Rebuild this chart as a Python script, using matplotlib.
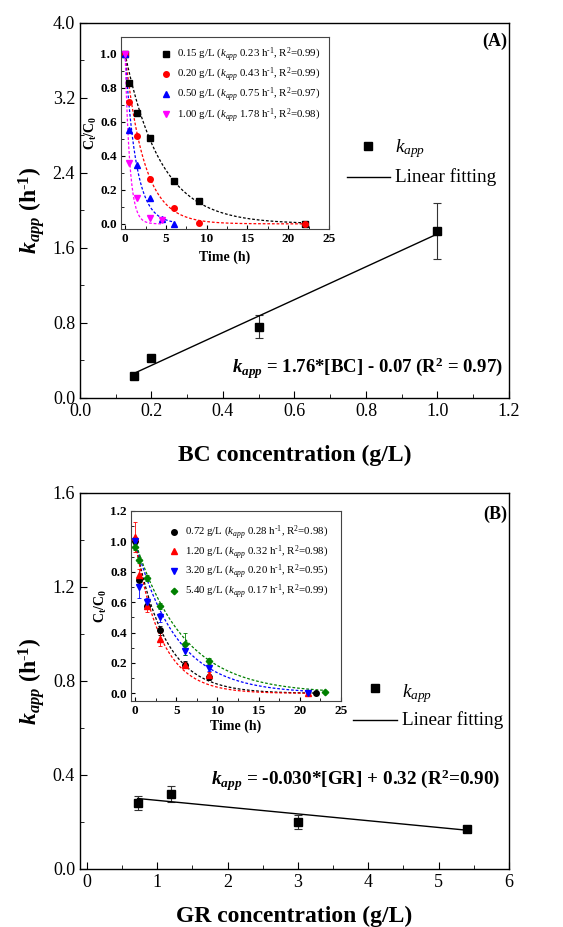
import numpy as np
import matplotlib
matplotlib.use('Agg')
import matplotlib.pyplot as plt
from matplotlib.ticker import MultipleLocator
from matplotlib.lines import Line2D

plt.rcParams['font.family'] = ['Liberation Serif', 'DejaVu Serif']
plt.rcParams['mathtext.fontset'] = 'custom'
plt.rcParams['mathtext.rm'] = 'Liberation Serif'
plt.rcParams['mathtext.it'] = 'Liberation Serif:italic'
plt.rcParams['mathtext.bf'] = 'Liberation Serif:bold'
plt.rcParams['mathtext.bfit'] = 'Liberation Serif:italic:bold'

# ---- panel A: main data ----
bc_conc = [0.15, 0.20, 0.50, 1.00]
bc_kapp = [0.23, 0.43, 0.76, 1.78]
bc_err = [0.0, 0.0, 0.12, 0.30]
bc_fit_x = [0.15, 1.00]
bc_fit_y = [0.26, 1.75]

# ---- panel A: inset data ----
bc_labels = ['0.15', '0.20', '0.50', '1.00']
bc_k = [0.23, 0.43, 0.75, 1.78]
bc_r2 = ['0.99', '0.99', '0.97', '0.98']
bc_t = [[0, 0.5, 1.5, 3, 6, 9, 22],
        [0, 0.5, 1.5, 3, 6, 9, 22],
        [0, 0.5, 1.5, 3, 4.5, 6],
        [0, 0.5, 1.5, 3, 4.5]]
bc_c = [[1.0, 0.83, 0.65, 0.505, 0.255, 0.135, 0.0],
        [1.0, 0.72, 0.52, 0.265, 0.095, 0.005, 0.0],
        [1.0, 0.55, 0.345, 0.155, 0.03, 0.0],
        [1.0, 0.36, 0.155, 0.035, 0.02]]
bc_tend = [22, 22, 6, 4.5]

# ---- panel B: main data ----
gr_conc = [0.72, 1.20, 3.00, 5.40]
gr_kapp = [0.28, 0.32, 0.20, 0.17]
gr_err = [0.03, 0.035, 0.03, 0.01]
gr_fit_x = [0.72, 5.40]
gr_fit_y = [0.30, 0.165]

# ---- panel B: inset data ----
gr_labels = ['0.72', '1.20', '3.20', '5.40']
gr_k = [0.28, 0.32, 0.20, 0.17]
gr_r2 = ['0.98', '0.98', '0.95', '0.99']
gr_t = [[0, 0.5, 1.5, 3, 6, 9, 22],
        [0, 0.5, 1.5, 3, 6, 9, 21],
        [0, 0.5, 1.5, 3, 6, 9, 21],
        [0, 0.5, 1.5, 3, 6, 9, 23]]
gr_c = [[1.0, 0.745, 0.575, 0.415, 0.19, 0.11, 0.0],
        [1.03, 0.78, 0.575, 0.355, 0.185, 0.12, 0.0],
        [1.0, 0.70, 0.60, 0.50, 0.28, 0.165, 0.0],
        [0.96, 0.88, 0.76, 0.575, 0.325, 0.215, 0.01]]
gr_e = [[0.03, 0.03, 0.02, 0.03, 0.02, 0.02, 0.0],
        [0.10, 0.04, 0.04, 0.04, 0.02, 0.02, 0.0],
        [0.02, 0.07, 0.03, 0.03, 0.03, 0.02, 0.0],
        [0.02, 0.02, 0.02, 0.02, 0.07, 0.02, 0.0]]
gr_tend = [22, 21, 21, 23]

colors = ['black', 'red', 'blue', 'green']
colors_a = ['black', 'red', 'blue', 'magenta']

KLAB = r'$\mathbfit{k}_{\mathbfit{app}}$ (h$^{\mathbf{\text{-}1}}$)'


def style_main(ax):
    ax.tick_params(direction='in', which='both', top=False, right=False,
                   labelsize=13)
    ax.tick_params(which='major', length=5)
    ax.tick_params(which='minor', length=3)
    for s in ax.spines.values():
        s.set_linewidth(1.0)


def style_inset(ax):
    ax.tick_params(direction='in', which='both', labelsize=9.5,
                   top=False, right=False, pad=3)
    ax.tick_params(which='major', length=3)
    ax.tick_params(which='minor', length=2)
    for lab in ax.get_xticklabels() + ax.get_yticklabels():
        lab.set_fontweight('bold')
    for s in ax.spines.values():
        s.set_linewidth(0.8)
        s.set_color('#444444')


def kin_label(conc, k, r2):
    return (conc + r' g/L ($k_{app}$ ' + '%.2f' % k +
            r' h$^{\text{-}1}$, R$^{2}$=' + r2 + ')')


fig = plt.figure(figsize=(5.63, 9.27), dpi=100)

# ================= panel A =================
ax1 = fig.add_axes([0.142, 0.5707, 0.762, 0.4045])
ax1.errorbar(bc_conc, bc_kapp, yerr=bc_err, fmt='s', color='black', ms=5.5,
             elinewidth=0.8, capsize=3, capthick=0.8, ecolor='#333333')
ax1.plot(bc_fit_x, bc_fit_y, '-', color='black', lw=1.0)
ax1.set_xlim(0, 1.2)
ax1.set_ylim(0, 4.0)
ax1.xaxis.set_major_locator(MultipleLocator(0.2))
ax1.xaxis.set_minor_locator(MultipleLocator(0.1))
ax1.yaxis.set_major_locator(MultipleLocator(0.8))
ax1.yaxis.set_minor_locator(MultipleLocator(0.4))
ax1.xaxis.set_major_formatter(plt.FormatStrFormatter('%.1f'))
ax1.yaxis.set_major_formatter(plt.FormatStrFormatter('%.1f'))
style_main(ax1)
ax1.set_xlabel('BC concentration (g/L)', fontsize=17, fontweight='bold',
               labelpad=18)
ax1.set_ylabel(KLAB, fontsize=17, fontweight='bold', labelpad=4)
ax1.text(0.995, 0.975, '(A)', transform=ax1.transAxes, ha='right', va='top',
         fontsize=13, fontweight='bold')
ax1.text(0.985, 0.08,
         r'$\mathbfit{k}_{\mathbfit{app}}$ = 1.76*[BC] - 0.07 (R$^{\mathbf{2}}$ = 0.97)',
         transform=ax1.transAxes, ha='right', va='center', fontsize=13.5,
         fontweight='bold')
# legend
ax1.plot([0.806], [2.69], 's', color='black', ms=5.5)
ax1.text(0.881, 2.66, r'$k_{app}$', fontsize=13.8, va='center', ha='left')
ax1.plot([0.747, 0.867], [2.36, 2.36], '-', color='black', lw=1.0)
ax1.text(0.881, 2.36, 'Linear fitting', fontsize=13.8, va='center', ha='left')

# inset A
ins1 = fig.add_axes([0.215, 0.753, 0.3694, 0.2071])
markers_a = ['s', 'o', '^', 'v']
for i in range(4):
    tt = np.linspace(0, bc_tend[i], 200)
    ins1.plot(tt, np.exp(-bc_k[i] * tt), '--', color=colors_a[i], lw=0.9,
              dashes=(2.2, 1.5))
handles = []
for i in range(4):
    ins1.plot(bc_t[i], bc_c[i], markers_a[i], color=colors_a[i], ms=4,
              ls='none')
    handles.append(Line2D([], [], marker=markers_a[i], color=colors_a[i],
                          ms=4, ls='none',
                          label=kin_label(bc_labels[i], bc_k[i], bc_r2[i])))
ins1.set_xlim(-0.5, 25)
ins1.set_ylim(-0.03, 1.1)
ins1.xaxis.set_major_locator(MultipleLocator(5))
ins1.xaxis.set_minor_locator(MultipleLocator(2.5))
ins1.yaxis.set_major_locator(MultipleLocator(0.2))
ins1.yaxis.set_minor_locator(MultipleLocator(0.1))
ins1.yaxis.set_major_formatter(plt.FormatStrFormatter('%.1f'))
style_inset(ins1)
ins1.set_xlabel('Time (h)', fontsize=10, fontweight='bold', labelpad=4)
ins1.set_ylabel(r'C$_{\mathbf{t}}$/C$_{\mathbf{0}}$', fontsize=10,
                fontweight='bold', labelpad=1)
ins1.legend(handles=handles, loc='upper right', frameon=False, fontsize=7.8,
            handletextpad=0.6, labelspacing=0.14, borderaxespad=0.4,
            handlelength=0.8)

# ================= panel B =================
ax2 = fig.add_axes([0.142, 0.0626, 0.762, 0.4056])
ax2.errorbar(gr_conc, gr_kapp, yerr=gr_err, fmt='s', color='black', ms=5.5,
             elinewidth=0.8, capsize=3, capthick=0.8, ecolor='#333333')
ax2.plot(gr_fit_x, gr_fit_y, '-', color='black', lw=1.0)
ax2.set_xlim(-0.1, 6)
ax2.set_ylim(0, 1.6)
ax2.xaxis.set_major_locator(MultipleLocator(1))
ax2.xaxis.set_minor_locator(MultipleLocator(0.5))
ax2.yaxis.set_major_locator(MultipleLocator(0.4))
ax2.yaxis.set_minor_locator(MultipleLocator(0.2))
ax2.yaxis.set_major_formatter(plt.FormatStrFormatter('%.1f'))
style_main(ax2)
ax2.set_xlabel('GR concentration (g/L)', fontsize=17, fontweight='bold',
               labelpad=11)
ax2.set_ylabel(KLAB, fontsize=17, fontweight='bold', labelpad=4)
ax2.text(0.995, 0.965, '(B)', transform=ax2.transAxes, ha='right', va='top',
         fontsize=13, fontweight='bold')
ax2.text(0.98, 0.235,
         r'$\mathbfit{k}_{\mathbfit{app}}$ = -0.030*[GR] + 0.32 (R$^{\mathbf{2}}$=0.90)',
         transform=ax2.transAxes, ha='right', va='center', fontsize=13.8,
         fontweight='bold')
ax2.plot([4.10], [0.77], 's', color='black', ms=5.5)
ax2.text(4.48, 0.745, r'$k_{app}$', fontsize=13.8, va='center', ha='left')
ax2.plot([3.78, 4.41], [0.634, 0.634], '-', color='black', lw=1.0)
ax2.text(4.48, 0.634, 'Linear fitting', fontsize=13.8, va='center', ha='left')

# inset B
ins2 = fig.add_axes([0.2327, 0.2438, 0.373, 0.205])
markers_b = ['o', '^', 'v', 'D']
for i in range(4):
    tt = np.linspace(0, gr_tend[i], 200)
    ins2.plot(tt, np.exp(-gr_k[i] * tt), '--', color=colors[i], lw=0.9,
              dashes=(2.2, 1.5))
handles = []
for i in range(4):
    ms = 4 if markers_b[i] != 'D' else 3.3
    ins2.errorbar(gr_t[i], gr_c[i], yerr=gr_e[i], fmt=markers_b[i],
                  color=colors[i], ms=ms, elinewidth=0.6, capsize=1.5,
                  capthick=0.6, ecolor=colors[i], alpha=1)
    handles.append(Line2D([], [], marker=markers_b[i], color=colors[i],
                          ms=ms, ls='none',
                          label=kin_label(gr_labels[i], gr_k[i], gr_r2[i])))
ins2.set_xlim(-0.5, 25)
ins2.set_ylim(-0.05, 1.2)
ins2.xaxis.set_major_locator(MultipleLocator(5))
ins2.xaxis.set_minor_locator(MultipleLocator(2.5))
ins2.yaxis.set_major_locator(MultipleLocator(0.2))
ins2.yaxis.set_minor_locator(MultipleLocator(0.1))
ins2.yaxis.set_major_formatter(plt.FormatStrFormatter('%.1f'))
style_inset(ins2)
ins2.set_xlabel('Time (h)', fontsize=10, fontweight='bold', labelpad=2)
ins2.set_ylabel(r'C$_{\mathbf{t}}$/C$_{\mathbf{0}}$', fontsize=10,
                fontweight='bold', labelpad=1)
ins2.legend(handles=handles, loc='upper right', frameon=False, fontsize=7.8,
            handletextpad=0.6, labelspacing=0.1, borderaxespad=0.75,
            handlelength=0.8)

fig.savefig('out.png', dpi=100)
